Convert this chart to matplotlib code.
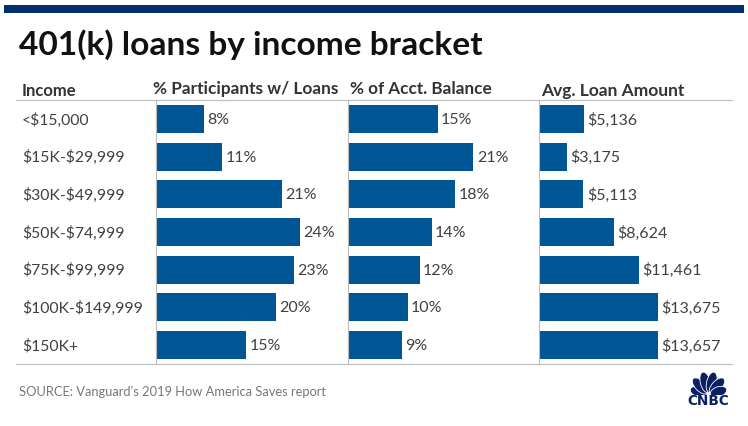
import matplotlib
matplotlib.use('Agg')
import matplotlib.pyplot as plt
import numpy as np
from matplotlib.patches import Ellipse, Rectangle

plt.rcParams['font.family'] = ['Lato', 'DejaVu Sans']
plt.rcParams['text.parse_math'] = False

# data
income = ['<$15,000', '$15K-$29,999', '$30K-$49,999', '$50K-$74,999',
          '$75K-$99,999', '$100K-$149,999', '$150K+']
pct_participants = [8, 11, 21, 24, 23, 20, 15]
pct_balance = [15, 21, 18, 14, 12, 10, 9]
avg_loan = [5136, 3175, 5113, 8624, 11461, 13675, 13657]
headers = ['Income', '% Participants w/ Loans', '% of Acct. Balance', 'Avg. Loan Amount']

W, H = 748, 427
BLUE = '#005594'
NAVY = '#002f6c'
GREY = '#c4c4c4'
TXT = '#404040'

fig = plt.figure(figsize=(W / 100, H / 100), dpi=100, facecolor='white')

# full page axes in pixel coords, for title, rules, logo
bg = fig.add_axes([0, 0, 1, 1])
bg.set_xlim(0, W)
bg.set_ylim(H, 0)
bg.axis('off')

bg.add_patch(Rectangle((4, 6), 740, 8, color=NAVY, lw=0))
bg.text(19.5, 45, '401(k) loans by income bracket', fontsize=24.1, fontweight='bold',
        color='#111111', va='center', ha='left')

bg.text(22, 91, headers[0], fontsize=12, fontweight='bold', color='#333333', va='center')
bg.text(153, 89, headers[1], fontsize=12.4, fontweight='bold', color='#333333', va='center')
bg.text(350, 89, headers[2], fontsize=12.35, fontweight='bold', color='#333333', va='center')
bg.text(541, 91, headers[3], fontsize=12.55, fontweight='bold', color='#333333', va='center')

bg.plot([16, 732], [101, 101], color=GREY, lw=1)
bg.plot([16, 732], [365, 365], color=GREY, lw=1)


def panel(x0, width, values, xmax, labels):
    # one bar panel placed by pixels
    ax = fig.add_axes([x0 / W, 1 - 365 / H, width / W, 264 / H])
    ax.patch.set_alpha(0)
    y = np.arange(len(values))
    ax.barh(y, values, height=0.743, color=BLUE)
    ax.set_xlim(0, xmax)
    ax.set_ylim(len(values) - 0.5, -0.5)
    ax.set_xticks([])
    ax.set_yticks([])
    for s in ['top', 'right', 'bottom']:
        ax.spines[s].set_visible(False)
    ax.spines['left'].set_color('#bbbbbb')
    ax.spines['left'].set_linewidth(0.8)
    for yy, v, lab in zip(y, values, labels):
        ax.annotate(lab, (v, yy), xytext=(2.5, 0), textcoords='offset points',
                    va='center', ha='left', fontsize=11.5, color=TXT)


panel(156, 190, pct_participants, 190 / 6.0, [f'{v}%' for v in pct_participants])
panel(348, 190, pct_balance, 190 / 5.97, [f'{v}%' for v in pct_balance])
panel(539, 190, avg_loan, 190 / 0.0087, [f'${v:,}' for v in avg_loan])

for i, name in enumerate(income):
    bg.text(22, 120 + i * 37.7, name, fontsize=11.3, color=TXT, va='center', ha='left')

bg.text(19, 392, "SOURCE: Vanguard's 2019 How America Saves report", fontsize=9.25,
        color='#777777', va='center', ha='left')

# CNBC peacock
LOGO = '#0b1f63'
cx, cy = 708.5, 396
for ang, length in [(-72, 17), (-43, 20), (-14, 21), (14, 21), (43, 20), (72, 17)]:
    rad = np.radians(ang)
    mx = cx + np.sin(rad) * length * 0.62
    my = cy - np.cos(rad) * length * 0.62
    bg.add_patch(Ellipse((mx, my), 10, length, angle=ang, facecolor=LOGO,
                         edgecolor='white', lw=0.6))
bg.add_patch(Rectangle((680, 396), 58, 12, color='white', lw=0, zorder=3))
bg.text(708.5, 401.5, 'CNBC', fontsize=9.8, fontweight='bold', color=LOGO, ha='center',
        va='center', zorder=4, family=['DejaVu Sans'])

fig.savefig('out.png', dpi=100)
